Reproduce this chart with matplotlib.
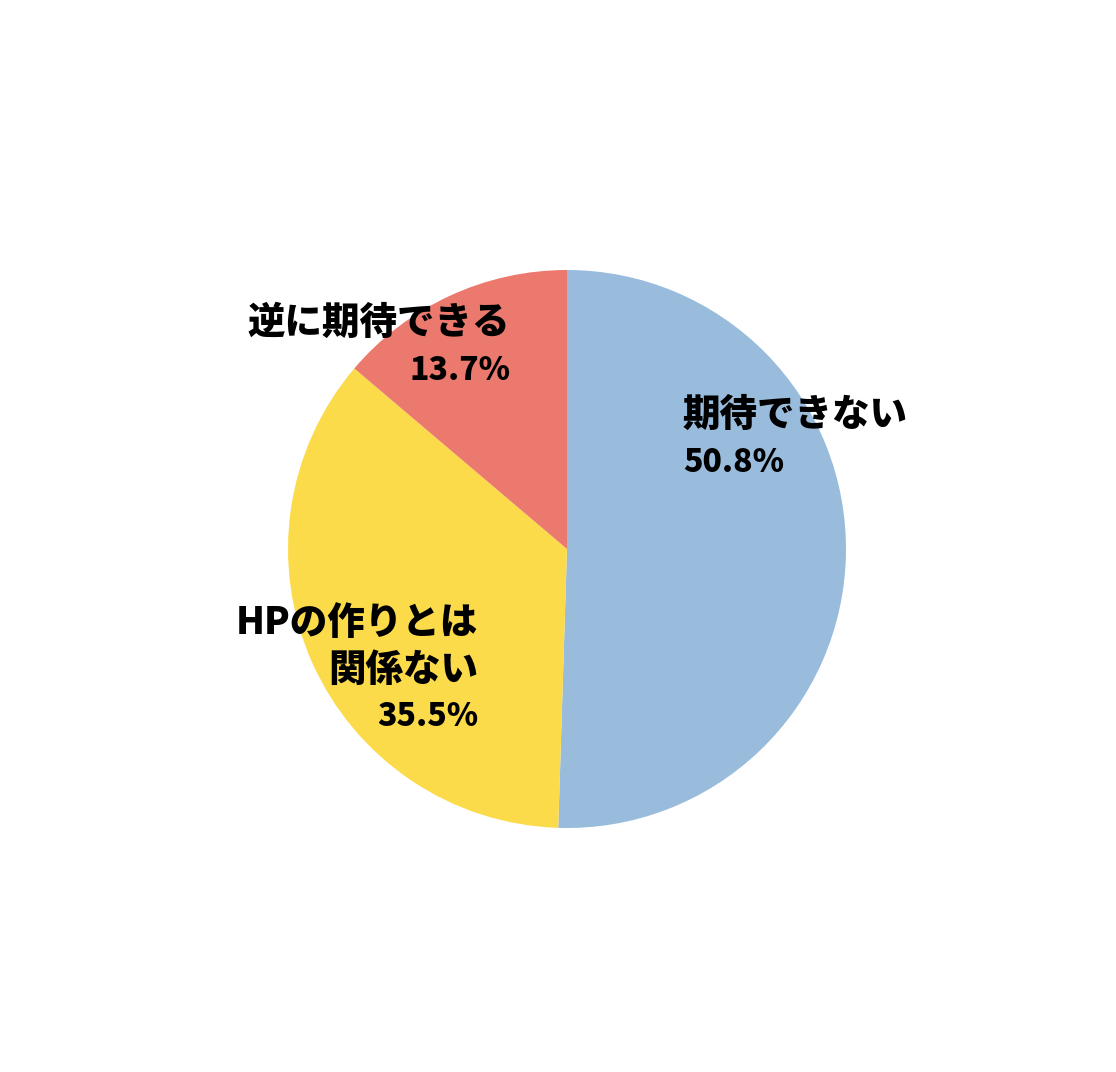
import matplotlib.pyplot as plt

plt.rcParams['font.family'] = ['Noto Sans CJK JP', 'DejaVu Sans']

# data (slice sizes as drawn in the picture, labels as printed)
labels = ["期待できない", "HPの作りとは\n関係ない", "逆に期待できる"]
values = [50.5, 35.7, 13.8]
pct_labels = ["50.8%", "35.5%", "13.7%"]
colors = ["#99BCDC", "#FCDB4B", "#EC796E"]

W, H = 1116, 1072
fig = plt.figure(figsize=(W / 100, H / 100), dpi=100)

# pie centre (567, 549) px from top, radius 279 px
cx, cy, r = 567, H - 549, 279
ax = fig.add_axes([(cx - r) / W, (cy - r) / H, 2 * r / W, 2 * r / H])
ax.pie(values, colors=colors, startangle=90, counterclock=False,
       radius=1, wedgeprops=dict(linewidth=0))
ax.set_xlim(-1, 1)
ax.set_ylim(-1, 1)
ax.set_aspect('equal')
ax.axis('off')

def px(x, y):
    return x / W, 1 - y / H

lab_kw = dict(fontsize=27, fontweight='black', va='center')
pct_kw = dict(fontsize=23, fontweight='black', va='center')

# 期待できない
fig.text(*px(683, 415), labels[0], ha='left', **lab_kw)
fig.text(*px(683, 462), pct_labels[0], ha='left', **pct_kw)

# HPの作りとは 関係ない
fig.text(*px(478, 623), labels[1].split("\n")[0], ha='right', **lab_kw)
fig.text(*px(478, 670), labels[1].split("\n")[1], ha='right', **lab_kw)
fig.text(*px(478, 716), pct_labels[1], ha='right', **pct_kw)

# 逆に期待できる
fig.text(*px(510, 323), labels[2], ha='right', **lab_kw)
fig.text(*px(510, 370), pct_labels[2], ha='right', **pct_kw)

fig.savefig("out.png", dpi=100, facecolor="white")
